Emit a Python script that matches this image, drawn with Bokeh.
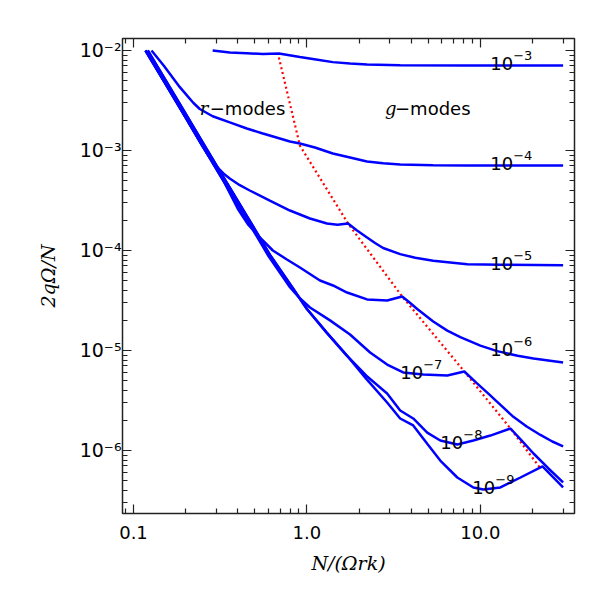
from bokeh.plotting import figure
from bokeh.models import LogAxis, FixedTicker, Range1d
from bokeh.core.properties import value
from bokeh.embed import file_html
from bokeh.resources import INLINE

# ---- data ----
x_m3 = [0.286, 0.359, 0.450, 0.557, 0.689, 0.911, 1.127, 1.41, 1.772, 2.22, 3.45, 8.4, 30.0]
y_m3 = [1.0e-2, 9.55e-3, 9.4e-3, 9.2e-3, 9.33e-3, 8.6e-3, 8.13e-3, 7.65e-3, 7.4e-3, 7.24e-3, 7.1e-3, 7.08e-3, 7.08e-3]

x_m4 = [0.127, 0.150, 0.168, 0.185, 0.202, 0.221, 0.241, 0.286, 0.359, 0.450, 0.557, 0.698, 0.798, 0.911,
        1.112, 1.41, 1.772, 2.22, 2.75, 3.45, 5.35, 8.41, 30.0]
y_m4 = [1.0e-2, 7.0e-3, 5.37e-3, 4.3e-3, 3.6e-3, 3.0e-3, 2.6e-3, 2.2e-3, 1.91e-3, 1.66e-3, 1.48e-3, 1.32e-3,
        1.23e-3, 1.175e-3, 1.07e-3, 9.33e-4, 8.51e-4, 7.76e-4, 7.45e-4, 7.24e-4, 7.1e-4, 7.08e-4, 7.08e-4]

x_m5 = [0.1173, 0.15, 0.19, 0.25, 0.275, 0.3018, 0.33, 0.3588, 0.41, 0.468, 0.611, 0.798, 1.041, 1.305,
        1.50, 1.726, 1.945, 2.222, 2.47, 2.75, 3.449, 4.21, 5.349, 8.41, 13.05, 30.0]
y_m5 = [1.0e-2, 4.9e-3, 2.47e-3, 1.1e-3, 8.5e-4, 6.9e-4, 5.9e-4, 5.25e-4, 4.5e-4, 3.98e-4, 3.16e-4, 2.51e-4,
        2.09e-4, 1.86e-4, 1.81e-4, 1.86e-4, 1.585e-4, 1.35e-4, 1.19e-4, 1.06e-4, 9.2e-5, 8.45e-5, 7.9e-5,
        7.3e-5, 7.2e-5, 7.1e-5]

x_m6 = [0.1173, 0.15, 0.19, 0.25, 0.33, 0.40, 0.46, 0.535, 0.636, 0.7665, 0.911, 1.189, 1.4135, 1.703, 2.222,
        2.90, 3.541, 3.94, 4.324, 5.349, 6.447, 7.663, 10.0, 12.5, 16.4, 20.25, 30.0]
y_m6 = [1.0e-2, 4.9e-3, 2.47e-3, 1.11e-3, 4.98e-4, 2.6e-4, 1.8e-4, 1.35e-4, 1.0e-4, 8.13e-5, 6.76e-5, 5.01e-5,
        4.47e-5, 3.80e-5, 3.24e-5, 3.16e-5, 3.47e-5, 2.98e-5, 2.6e-5, 1.95e-5, 1.58e-5, 1.36e-5, 1.12e-5,
        9.85e-6, 8.85e-6, 8.3e-6, 7.6e-6]

x_m7 = [0.1173, 0.15, 0.19, 0.25, 0.33, 0.45, 0.60, 0.80, 0.90, 1.041, 1.3585, 1.772, 2.313, 2.90, 3.589,
        4.683, 6.447, 8.081, 9.5, 11.2, 13.2, 15.5, 18.5, 22.2, 26.0, 30.0]
y_m7 = [1.0e-2, 4.9e-3, 2.47e-3, 1.11e-3, 4.98e-4, 2.04e-4, 8.8e-5, 4.27e-5, 3.4e-5, 2.69e-5, 2.0e-5,
        1.445e-5, 9.55e-6, 7.24e-6, 6.03e-6, 5.75e-6, 5.62e-6, 6.17e-6, 4.75e-6, 3.66e-6, 2.81e-6, 2.17e-6,
        1.74e-6, 1.43e-6, 1.23e-6, 1.10e-6]

x_m8 = [0.1208, 0.1545, 0.1957, 0.2575, 0.34, 0.4635, 0.618, 0.824, 1.0, 1.3, 1.7, 2.2, 2.9, 3.449, 4.101,
        4.939, 5.872, 7.364, 9.111, 11.42, 14.91, 17.26, 20.25, 24.7, 30.0]
y_m8 = [1.0e-2, 4.9e-3, 2.47e-3, 1.11e-3, 4.98e-4, 2.04e-4, 8.8e-5, 4.27e-5, 2.6e-5, 1.51e-5, 8.9e-6,
        5.6e-6, 3.72e-6, 2.51e-6, 2.09e-6, 1.51e-6, 1.26e-6, 1.148e-6, 1.26e-6, 1.41e-6, 1.66e-6, 1.26e-6,
        9.33e-7, 6.61e-7, 4.79e-7]

x_m9 = [0.1208, 0.1545, 0.1957, 0.2575, 0.34, 0.4635, 0.618, 0.824, 1.0, 1.3, 1.7, 2.2, 2.9, 3.449, 4.101,
        4.939, 5.872, 7.364, 9.111, 10.41, 13.05, 17.03, 22.82, 30.0]
y_m9 = [1.0e-2, 4.9e-3, 2.47e-3, 1.11e-3, 4.98e-4, 2.04e-4, 8.8e-5, 4.27e-5, 2.6e-5, 1.51e-5, 8.9e-6,
        5.2e-6, 3.02e-6, 2.09e-6, 1.78e-6, 1.17e-6, 7.94e-7, 5.37e-7, 4.27e-7, 4.07e-7, 4.27e-7, 5.37e-7,
        6.92e-7, 4.27e-7]

curves_x = [x_m3, x_m4, x_m5, x_m6, x_m7, x_m8, x_m9]
curves_y = [y_m3, y_m4, y_m5, y_m6, y_m7, y_m8, y_m9]

# locus of the cusps (red dotted)
red_x = [0.689, 0.911, 1.726, 3.541, 8.081, 14.91, 22.22]
red_y = [8.51e-3, 1.12e-3, 1.86e-4, 3.47e-5, 6.17e-6, 1.66e-6, 6.61e-7]

# curve labels: base "10" and exponent
lab_base = ["10", "10", "10", "10", "10", "10", "10"]
lab_exp = ["−3", "−4", "−5", "−6", "−7", "−8", "−9"]
lab_x = [11.4, 11.4, 11.4, 11.4, 3.45, 5.87, 8.99]
lab_y = [7.4e-3, 7.4e-4, 7.4e-5, 1.02e-5, 6.0e-6, 1.2e-6, 4.27e-7]

mode_x = [0.241, 2.82]
mode_y = [2.63e-3, 2.63e-3]
mode_sym = ["r", "g"]
mode_rest = ["−modes", "−modes"]

x_major = [0.1, 1.0, 10.0]
x_major_labels = ["0.1", "1.0", "10.0"]
x_minor = [0.09, 0.2, 0.3, 0.4, 0.5, 0.6, 0.7, 0.8, 0.9, 2, 3, 4, 5, 6, 7, 8, 9, 20, 30]
y_major = [1e-6, 1e-5, 1e-4, 1e-3, 1e-2]
y_major_labels = ["10⁻⁶", "10⁻⁵", "10⁻⁴", "10⁻³", "10⁻²"]
y_minor = [m * 10.0 ** e for e in range(-7, -1) for m in range(2, 10)]

X_LO, X_HI = 0.0864, 34.9
Y_LO, Y_HI = 2.344e-7, 1.318e-2

# ---- figure ----
p = figure(width=602, height=583, x_axis_type="log", y_axis_type="log",
           x_range=Range1d(X_LO, X_HI), y_range=Range1d(Y_LO, Y_HI),
           output_backend="svg", toolbar_location=None,
           min_border_left=122, min_border_right=28, min_border_top=38, min_border_bottom=70)
p.grid.visible = False
p.outline_line_color = "#222222"
p.outline_line_width = 1.5
p.background_fill_color = "white"
p.border_fill_color = "white"

def style(ax, show):
    ax.major_tick_in = 9
    ax.major_tick_out = 0
    ax.minor_tick_in = 5
    ax.minor_tick_out = 0
    ax.major_tick_line_color = "#222222"
    ax.minor_tick_line_color = "#222222"
    ax.major_tick_line_width = 1.2
    ax.minor_tick_line_width = 1.2
    ax.axis_line_color = None
    if show:
        ax.major_label_text_font = "DejaVu Sans"
        ax.major_label_text_font_size = "18px"
        ax.major_label_text_color = "black"
    else:
        ax.major_label_text_font_size = "1px"
        ax.major_label_text_color = None
        ax.major_label_standoff = 0

xa = p.xaxis[0]
xa.ticker = FixedTicker(ticks=x_major, minor_ticks=x_minor)
xa.major_label_overrides = {v: s for v, s in zip(x_major, x_major_labels)}
style(xa, True)
xa.major_label_standoff = 12
xa.axis_label = "N/(Ωrk)"
xa.axis_label_text_font = "DejaVu Serif"
xa.axis_label_text_font_style = "italic"
xa.axis_label_text_font_size = "19px"
xa.axis_label_text_color = "black"
xa.axis_label_standoff = 10

ya = p.yaxis[0]
ya.ticker = FixedTicker(ticks=y_major, minor_ticks=y_minor)
ya.major_label_overrides = {v: s for v, s in zip(y_major, y_major_labels)}
style(ya, True)
ya.major_label_text_font_size = "19px"
ya.major_label_standoff = 1
ya.axis_label = "2qΩ/N"
ya.axis_label_text_font = "DejaVu Serif"
ya.axis_label_text_font_style = "italic"
ya.axis_label_text_font_size = "19px"
ya.axis_label_text_color = "black"
ya.axis_label_standoff = 18

top = LogAxis(ticker=FixedTicker(ticks=x_major, minor_ticks=x_minor))
style(top, False)
p.add_layout(top, "above")
right = LogAxis(ticker=FixedTicker(ticks=y_major, minor_ticks=y_minor))
style(right, False)
p.add_layout(right, "right")

# ---- glyphs ----
p.line(red_x, red_y, line_color="red", line_width=2.2, line_dash="2 3")
for cx, cy in zip(curves_x, curves_y):
    p.line(cx, cy, line_color="#0000ff", line_width=2.5)

p.text(x=lab_x, y=lab_y, text=lab_base, text_font=value("DejaVu Sans"), text_font_size="18px",
       text_baseline="alphabetic", text_align="left", text_color="black")
p.text(x=lab_x, y=lab_y, text=lab_exp, x_offset=23, y_offset=-8, text_font=value("DejaVu Sans"),
       text_font_size="13px", text_baseline="alphabetic", text_align="left", text_color="black")
p.text(x=mode_x, y=mode_y, text=mode_sym, text_font=value("DejaVu Serif"), text_font_style="italic",
       text_font_size="18px", text_baseline="alphabetic", text_align="left", text_color="black")
p.text(x=mode_x, y=mode_y, text=mode_rest, x_offset=10, text_font=value("DejaVu Sans"),
       text_font_size="18px", text_baseline="alphabetic", text_align="left", text_color="black")

open("out.html", "w").write(file_html(p, INLINE))
